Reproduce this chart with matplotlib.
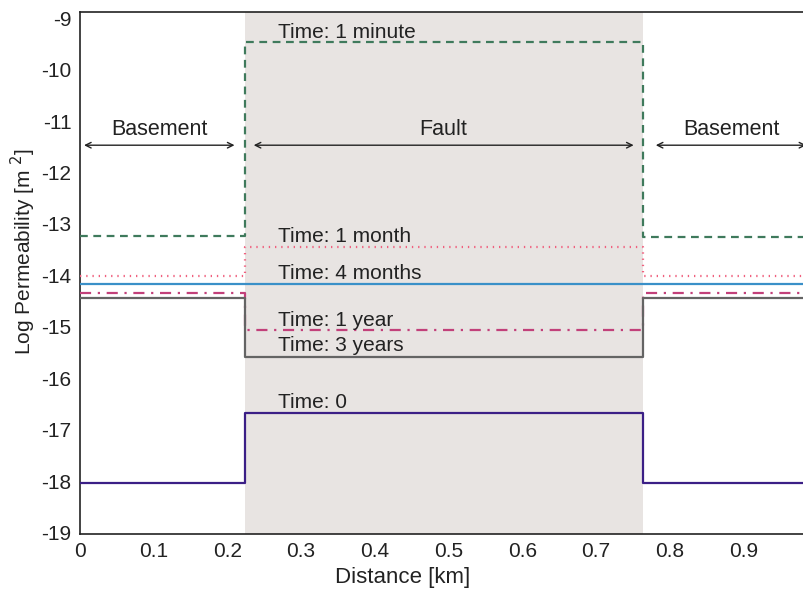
import matplotlib
matplotlib.use("Agg")
import matplotlib.pyplot as plt
import numpy as np

plt.rcParams['font.family'] = ['Liberation Sans', 'DejaVu Sans']

# Data
fault_start = 0.224
fault_end = 0.764
x_max = 0.983
series_names = ["Time: 1 minute", "Time: 1 month", "Time: 4 months", "Time: 1 year", "Time: 3 years", "Time: 0"]
basement_left = [-13.23, -14.02, -14.17, -14.35, -14.45, -18.04]
fault_vals = [-9.46, -13.44, -14.17, -15.06, -15.58, -16.68]
basement_right = [-13.26, -14.02, -14.17, -14.35, -14.45, -18.03]
label_y = [-9.27, -13.25, -13.96, -14.87, -15.37, -16.48]
xticks = [0, 0.1, 0.2, 0.3, 0.4, 0.5, 0.6, 0.7, 0.8, 0.9]
yticks = [-19, -18, -17, -16, -15, -14, -13, -12, -11, -10, -9]

colors = ["#3f7a5c", "#f0607e", "#3a90c8", "#c2407a", "#646464", "#3b1f86"]
styles = [(0, (3.5, 2.5)), (0, (0.6, 2.2)), '-', (0, (5, 3, 1, 3)), '-', '-']

fig = plt.figure(figsize=(8.04, 5.91), dpi=100)
ax = fig.add_axes([0.099, 0.0964, 0.902, 0.8833])

ax.axvspan(fault_start, fault_end, color="#e8e4e2", zorder=0, lw=0)

for i in range(len(series_names)):
    xs = [0, fault_start, fault_start, fault_end, fault_end, x_max]
    ys = [basement_left[i], basement_left[i], fault_vals[i], fault_vals[i], basement_right[i], basement_right[i]]
    ax.plot(xs, ys, color=colors[i], linestyle=styles[i], lw=1.6, zorder=3)
    ax.text(fault_start + 0.045, label_y[i], series_names[i], fontsize=15,
            color="#222222", va='center', ha='left', zorder=4)

# region annotations
arrow_y = -11.47
regions = [("Basement", 0.006, 0.21), ("Fault", 0.236, 0.751), ("Basement", 0.781, 0.985)]
for name, a, b in regions:
    ax.annotate("", xy=(a, arrow_y), xytext=(b, arrow_y),
                arrowprops=dict(arrowstyle="<->", color="#222222", lw=1.0, shrinkA=0, shrinkB=0),
                annotation_clip=False)
    ax.text((a + b) / 2, arrow_y + 0.1, name, ha='center', va='bottom', fontsize=15.5,
            color="#222222")

ax.set_xlim(0, x_max)
ax.set_ylim(-19.03, -8.88)
ax.set_xticks(xticks)
ax.set_xticklabels([("%g" % t) for t in xticks])
ax.set_yticks(yticks)
ax.set_yticklabels([("%d" % t) for t in yticks])
ax.tick_params(length=0, labelsize=15, pad=6, colors="#222222")
for s in ["left", "bottom", "top"]:
    ax.spines[s].set_linewidth(1.2)
    ax.spines[s].set_color("#222222")
ax.spines["right"].set_visible(False)

ax.set_xlabel("Distance [km]", fontsize=16, color="#222222")
ax.xaxis.set_label_coords(0.445, -0.064)
ax.set_ylabel("Log Permeability [m $^2$]", fontsize=15, color="#222222")
ax.yaxis.set_label_coords(-0.058, 0.54)

fig.savefig("out.png", dpi=100)
